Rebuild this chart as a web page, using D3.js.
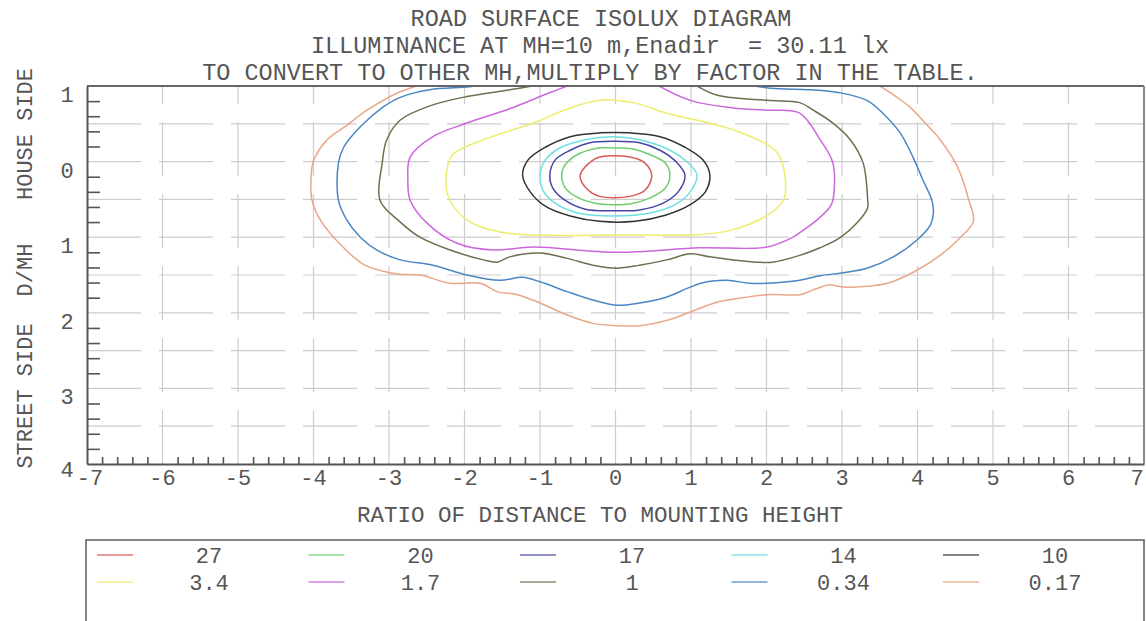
<!DOCTYPE html>
<html>
<head>
<meta charset="utf-8">
<script src="https://cdn.jsdelivr.net/npm/d3@7"></script>
<style>
html, body { margin: 0; padding: 0; background: #fff; }
svg text { font-family: "Liberation Mono", "DejaVu Sans Mono", monospace; fill: #555; }
</style>
</head>
<body>
<div id="main"></div>
<script>
"use strict";

// ---- data ----
const titleLines = [
    "ROAD SURFACE ISOLUX DIAGRAM",
    "ILLUMINANCE AT MH=10 m,Enadir  = 30.11 lx",
    "TO CONVERT TO OTHER MH,MULTIPLY BY FACTOR IN THE TABLE."
];
const xTicks = [-7, -6, -5, -4, -3, -2, -1, 0, 1, 2, 3, 4, 5, 6, 7];
const yTicks = [-1, 0, 1, 2, 3, 4];      // negative = house side
const xTitle = "RATIO OF DISTANCE TO MOUNTING HEIGHT";
const sideLabels = ["HOUSE SIDE", "D/MH", "STREET SIDE"];

const levels = ["27", "20", "17", "14", "10", "3.4", "1.7", "1", "0.34", "0.17"];
const levelColors = ["#d85a5a", "#6ccf6c", "#4646a8", "#6ee0e0", "#333333",
                     "#eded6a", "#cc66dd", "#6f6f4f", "#4a86c4", "#e8a888"];

// contour lines, [ratio x, D/MH y]
const iso27 = [[-0.47,0.19],[-0.34,0.01],[-0.21,-0.06],[0.19,-0.06],[0.39,0.02],[0.48,0.19],
    [0.39,0.38],[0.19,0.46],[-0.21,0.46],[-0.36,0.38]];
const iso20 = [[-0.71,0.15],[-0.64,0.01],[-0.47,-0.11],[-0.23,-0.18],[-0.03,-0.18],[0.22,-0.17],
    [0.46,-0.09],[0.66,0.02],[0.72,0.18],[0.66,0.35],[0.46,0.48],[0.19,0.56],[-0.03,0.57],
    [-0.27,0.55],[-0.51,0.47],[-0.67,0.34]];
const iso17 = [[-0.87,0.18],[-0.80,-0.02],[-0.60,-0.15],[-0.34,-0.25],[-0.03,-0.27],[0.32,-0.25],
    [0.59,-0.15],[0.81,0.01],[0.92,0.18],[0.83,0.40],[0.63,0.55],[0.32,0.64],[-0.03,0.65],
    [-0.40,0.63],[-0.67,0.51],[-0.83,0.35]];
const iso14 = [[-1.00,0.18],[-0.93,-0.02],[-0.74,-0.18],[-0.40,-0.29],[-0.03,-0.33],[0.32,-0.29],
    [0.66,-0.18],[0.92,-0.02],[1.08,0.18],[0.99,0.40],[0.79,0.57],[0.46,0.68],[-0.03,0.72],
    [-0.50,0.68],[-0.80,0.55],[-0.96,0.38]];
const iso10 = [[-1.23,0.18],[-1.16,-0.02],[-0.93,-0.19],[-0.60,-0.33],[-0.21,-0.38],[0.19,-0.38],
    [0.59,-0.33],[0.92,-0.19],[1.16,-0.02],[1.25,0.18],[1.19,0.40],[0.99,0.57],[0.66,0.71],
    [0.26,0.79],[-0.21,0.79],[-0.60,0.72],[-0.93,0.59],[-1.13,0.40]];
const iso3_4 = [[-2.22,0.45],[-2.22,0.05],[-2.15,-0.10],[-1.75,-0.29],[-1.09,-0.51],[-0.68,-0.68],
    [-0.21,-0.81],[0.23,-0.78],[0.68,-0.64],[1.56,-0.42],[2.14,-0.12],[2.25,0.25],[2.20,0.55],
    [1.56,0.90],[0.01,0.97],[-1.53,0.93],[-1.97,0.77]];
const iso1_7 = [[-0.56,-1.03],[-0.90,-0.90],[-1.40,-0.70],[-1.97,-0.51],[-2.42,-0.33],[-2.72,-0.06],
    [-2.75,0.24],[-2.72,0.51],[-2.50,0.81],[-2.10,1.08],[-1.62,1.17],[-1.09,1.13],[0.01,1.20],
    [1.12,1.14],[2.01,1.13],[2.35,1.00],[2.44,0.94],[2.67,0.77],[2.84,0.60],[2.88,0.51],
    [2.88,0.02],[2.71,-0.29],[2.44,-0.64],[2.01,-0.68],[1.56,-0.71],[0.99,-0.81],[0.52,-1.03]];
const iso1 = [[-0.93,-1.03],[-1.40,-0.95],[-1.97,-0.86],[-2.45,-0.74],[-2.85,-0.55],[-3.03,-0.29],[-3.09,0.02],
    [-3.12,0.51],[-2.85,0.80],[-2.59,1.00],[-2.19,1.17],[-1.75,1.30],[-1.57,1.33],[-1.40,1.26],
    [-1.00,1.21],[-0.64,1.28],[-0.30,1.37],[0.01,1.41],[0.32,1.37],[0.68,1.30],[0.99,1.22],
    [1.25,1.26],[1.56,1.30],[1.87,1.33],[2.08,1.33],[2.44,1.24],[2.71,1.14],[2.97,1.01],
    [3.20,0.81],[3.34,0.61],[3.34,0.51],[3.28,0.02],[3.11,-0.29],[2.88,-0.51],[2.62,-0.68],
    [2.44,-0.78],[2.01,-0.81],[1.34,-0.88],[1.03,-1.03]];
const iso0_34 = [[-1.70,-1.03],[-1.93,-0.99],[-2.46,-0.95],[-2.85,-0.85],[-3.08,-0.72],[-3.38,-0.46],
    [-3.60,-0.19],[-3.67,0.02],[-3.67,0.51],[-3.56,0.77],[-3.38,1.00],[-3.16,1.17],[-2.85,1.30],
    [-2.42,1.37],[-1.97,1.50],[-1.53,1.57],[-1.23,1.53],[-1.00,1.59],[-0.64,1.72],[-0.30,1.83],
    [0.01,1.90],[0.32,1.87],[0.68,1.79],[0.99,1.66],[1.21,1.59],[1.48,1.57],[1.78,1.61],
    [2.01,1.61],[2.44,1.57],[2.71,1.51],[3.01,1.47],[3.33,1.41],[3.68,1.26],[3.99,1.04],
    [4.17,0.84],[4.21,0.68],[4.19,0.51],[4.07,0.24],[3.94,-0.06],[3.77,-0.38],[3.54,-0.64],
    [3.33,-0.81],[2.97,-0.91],[2.58,-0.95],[2.05,-0.97],[1.68,-1.03]];
const iso0_17 = [[-2.52,-1.03],[-2.86,-0.92],[-3.29,-0.68],[-3.56,-0.48],[-3.82,-0.29],[-3.98,-0.06],
    [-4.02,0.07],[-4.02,0.51],[-3.91,0.77],[-3.64,1.10],[-3.32,1.37],[-2.99,1.47],[-2.86,1.49],
    [-2.59,1.50],[-2.19,1.61],[-1.79,1.61],[-1.57,1.72],[-1.30,1.76],[-1.00,1.87],[-0.64,2.03],
    [-0.30,2.14],[0.01,2.17],[0.32,2.17],[0.68,2.10],[0.99,1.99],[1.34,1.86],[1.56,1.82],
    [2.01,1.76],[2.44,1.76],[2.61,1.70],[2.75,1.65],[2.84,1.63],[3.01,1.66],[3.33,1.65],
    [3.60,1.61],[3.95,1.46],[4.30,1.24],[4.56,1.01],[4.74,0.79],[4.68,0.51],[4.53,0.07],
    [4.30,-0.29],[4.13,-0.48],[3.90,-0.72],[3.73,-0.85],[3.50,-1.00],[3.44,-1.03]];

const closedLines = [iso27, iso20, iso17, iso14, iso10, iso3_4];
const openLines = [iso1_7, iso1, iso0_34, iso0_17];

// ---- layout ----
const W = 1146, H = 621;
const svg = d3.select("#main").append("svg").attr("width", W).attr("height", H);

const x = d3.scaleLinear().domain([-7, 7]).range([87, 1144]);
const y = d3.scaleLinear().domain([-1, 4]).range([86, 464]);

// titles
svg.selectAll("text.title").data(titleLines).enter().append("text")
    .attr("class", "title")
    .attr("x", (d, i) => [601, 600, 590][i])
    .attr("y", (d, i) => 26 + i * 27)
    .attr("text-anchor", "middle")
    .style("font-size", "23.5px")
    .style("white-space", "pre")
    .attr("xml:space", "preserve")
    .text(d => d);

// grid
const grid = svg.append("g").attr("stroke", "#cdcdcd").attr("stroke-width", 1.2).attr("fill", "none");
grid.selectAll("path.v").data(xTicks.slice(1, -1)).enter().append("path")
    .attr("d", d => `M${x(d)},${y(4)}V${y(-1)}`)
    .attr("stroke-dasharray", "54,18");
const yGrid = d3.range(-0.5, 4, 0.5);
grid.selectAll("path.h").data(yGrid).enter().append("path")
    .attr("d", d => `M${x(-7)},${y(d)}H${x(7)}`)
    .attr("stroke-dasharray", "54,18");

// contours
svg.append("clipPath").attr("id", "plotclip").append("rect")
    .attr("x", x(-7)).attr("y", y(-1)).attr("width", x(7) - x(-7)).attr("height", y(4) - y(-1));
const cg = svg.append("g").attr("clip-path", "url(#plotclip)").attr("fill", "none").attr("stroke-width", 1.5);
const lineClosed = d3.line().x(d => x(d[0])).y(d => y(d[1])).curve(d3.curveCatmullRomClosed.alpha(0.5));
const lineOpen = d3.line().x(d => x(d[0])).y(d => y(d[1])).curve(d3.curveCatmullRom.alpha(0.5));

cg.selectAll("path.o").data(openLines).enter().append("path")
    .attr("d", lineOpen)
    .attr("stroke", (d, i) => levelColors[6 + i]);
cg.selectAll("path.c").data(closedLines).enter().append("path")
    .attr("d", lineClosed)
    .attr("stroke", (d, i) => levelColors[i]);

// frame
svg.append("line").attr("x1", x(-7)).attr("x2", x(7)).attr("y1", y(-1)).attr("y2", y(-1))
    .attr("stroke", "#666").attr("stroke-width", 2);
svg.append("line").attr("x1", x(7)).attr("x2", x(7)).attr("y1", y(-1)).attr("y2", y(4))
    .attr("stroke", "#888").attr("stroke-width", 2);

// minor ticks
const xMinor = d3.range(-7, 7.001, 0.2).filter(v => Math.abs(v - Math.round(v)) > 0.01);
const yMinor = d3.range(-1, 4.001, 0.2).filter(v => Math.abs(v - Math.round(v)) > 0.01);

const xAxis = svg.append("g").attr("transform", `translate(0,${y(4)})`)
    .call(d3.axisBottom(x).tickValues(xMinor).tickSize(-7).tickFormat("").tickSizeOuter(0));
const yAxis = svg.append("g").attr("transform", `translate(${x(-7)},0)`)
    .call(d3.axisLeft(y).tickValues(yMinor).tickSize(-13).tickFormat("").tickSizeOuter(0));
[xAxis, yAxis].forEach(a => {
    a.select(".domain").attr("stroke", "#555").attr("stroke-width", 2);
    a.selectAll(".tick line").attr("stroke", "#555").attr("stroke-width", 1.6);
});

// tick labels
svg.selectAll("text.xl").data(xTicks).enter().append("text")
    .attr("class", "xl")
    .attr("x", d => x(d) + (d === -7 ? 3 : d === 7 ? -7 : 0))
    .attr("y", 485)
    .attr("text-anchor", "middle")
    .style("font-size", "22px")
    .text(d => d);

svg.selectAll("text.yl").data(yTicks).enter().append("text")
    .attr("class", "yl")
    .attr("x", 67)
    .attr("y", d => d === 4 ? y(d) + 13 : y(d) + 16)
    .attr("text-anchor", "middle")
    .style("font-size", "22px")
    .text(d => Math.abs(d));

// axis titles
svg.append("text").attr("x", 600).attr("y", 522).attr("text-anchor", "middle")
    .style("font-size", "22.5px").text(xTitle);

svg.selectAll("text.side").data(sideLabels).enter().append("text")
    .attr("class", "side")
    .attr("transform", (d, i) => `translate(32,${[134, 270, 396][i]}) rotate(-90)`)
    .attr("text-anchor", "middle")
    .style("font-size", "22px")
    .text(d => d);

// legend
const lg = svg.append("g");
lg.append("rect").attr("x", 86).attr("y", 540).attr("width", 1058).attr("height", 120)
    .attr("fill", "none").attr("stroke", "#666").attr("stroke-width", 1.6);
const item = lg.selectAll("g.item").data(levels).enter().append("g")
    .attr("class", "item")
    .attr("transform", (d, i) => `translate(${97 + (i % 5) * 211.5},${i < 5 ? 555 : 582})`);
item.append("line").attr("x1", 0).attr("x2", 36).attr("y1", 0).attr("y2", 0)
    .attr("stroke", (d, i) => levelColors[i]).attr("stroke-width", 1.6).attr("opacity", 0.8);
item.append("text").attr("x", 112).attr("y", 8).attr("text-anchor", "middle")
    .style("font-size", "22px").text(d => d);
</script>
</body>
</html>
